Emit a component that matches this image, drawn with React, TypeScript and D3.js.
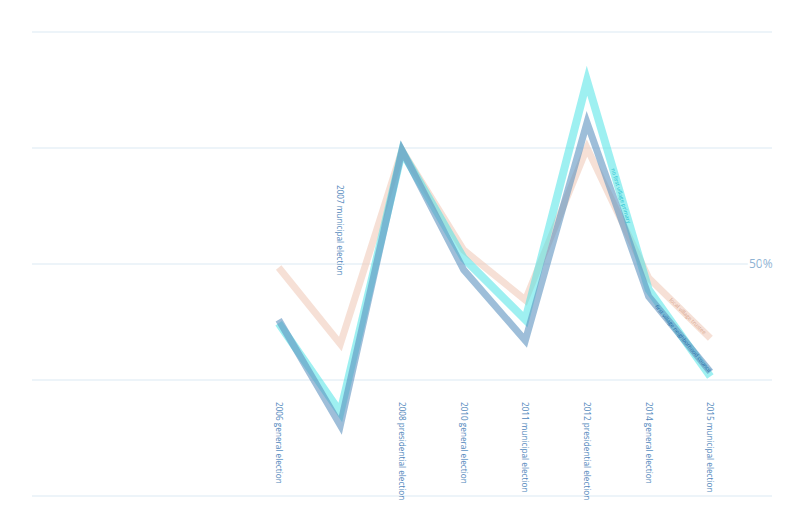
import React from "react";
import * as d3 from "d3";

const elections = [
  "2006 general election",
  "2007 municipal election",
  "2008 presidential election",
  "2010 general election",
  "2011 municipal election",
  "2012 presidential election",
  "2014 general election",
  "2015 municipal election",
];

// turnout, percent
const villageTrustee = [49.7, 43.1, 59.8, 51.2, 46.9, 60.0, 48.8, 43.6];
const firstVillagePrimary = [44.9, 37.2, 59.7, 50.5, 45.2, 65.8, 47.8, 40.3];
const neighborhoodCouncil = [45.2, 36.1, 59.8, 49.5, 43.4, 62.2, 47.2, 40.7];

const gridTicks = [30, 40, 50, 60, 70];
const labelledTicks = [50];

const width = 800;
const height = 529;

const App: React.FC = () => {
  const margin = { top: 32, right: 28, bottom: 33, left: 32 };

  // the axis leaves four empty slots before 2006
  const x = d3
    .scaleLinear()
    .domain([-4, 8])
    .range([margin.left, width - margin.right]);
  const y = d3
    .scaleLinear()
    .domain([30, 70])
    .range([height - margin.bottom, margin.top]);

  const line = d3
    .line<number>()
    .x((_, i) => x(i))
    .y((d) => y(d));

  const series = [
    { name: "local village trustee", values: villageTrustee, color: "#efc7b4", opacity: 0.55, w: 7, text: "#d9a892", seg: 6, t: 0.35 },
    { name: "no first village primary", values: firstVillagePrimary, color: "#4fe3e6", opacity: 0.55, w: 8, text: "#1fbfd0", seg: 5, t: 0.42 },
    { name: "first village neighborhood council", values: neighborhoodCouncil, color: "#5e92bf", opacity: 0.6, w: 7, text: "#2a6aa8", seg: 6, t: 0.12 },
  ];

  const segLabel = (values: number[], seg: number, t: number) => {
    const x0 = x(seg), y0 = y(values[seg]);
    const x1 = x(seg + 1), y1 = y(values[seg + 1]);
    const angle = (Math.atan2(y1 - y0, x1 - x0) * 180) / Math.PI;
    return { px: x0 + (x1 - x0) * t, py: y0 + (y1 - y0) * t, angle };
  };

  return (
    <svg
      width={width}
      height={height}
      style={{ position: "absolute", left: 0, top: 0, background: "#fff" }}
      fontFamily="'Open Sans', sans-serif"
    >
      {gridTicks.map((t) => (
        <line
          key={t}
          x1={margin.left}
          x2={width - margin.right}
          y1={y(t)}
          y2={y(t)}
          stroke="#dbe9f3"
          strokeWidth={1}
        />
      ))}
      {labelledTicks.map((t) => (
        <text
          key={t}
          x={749}
          y={y(t)}
          dy="0.35em"
          fontSize={12}
          fill="#8fb3d3"
          style={{ paintOrder: "stroke" }}
          stroke="#fff"
          strokeWidth={4}
        >
          {t}%
        </text>
      ))}

      {series.map((s) => (
        <path
          key={s.name}
          d={line(s.values) || ""}
          fill="none"
          stroke={s.color}
          strokeOpacity={s.opacity}
          strokeWidth={s.w}
          strokeLinejoin="miter"
        />
      ))}

      {series.map((s) => {
        const p = segLabel(s.values, s.seg, s.t);
        return (
          <text
            key={s.name}
            transform={`translate(${p.px},${p.py}) rotate(${p.angle})`}
            dy="0.35em"
            fontSize={5.5}
            fill={s.text}
          >
            {s.name}
          </text>
        );
      })}

      {elections.map((e, i) => {
        const top = i === 1 ? 185 : 402;
        return (
          <text
            key={e}
            transform={`translate(${x(i)},${top}) rotate(90)`}
            dy="0.35em"
            fontSize={8.2}
            fill="#4f86bb"
          >
            {e}
          </text>
        );
      })}
    </svg>
  );
};

export default App;
